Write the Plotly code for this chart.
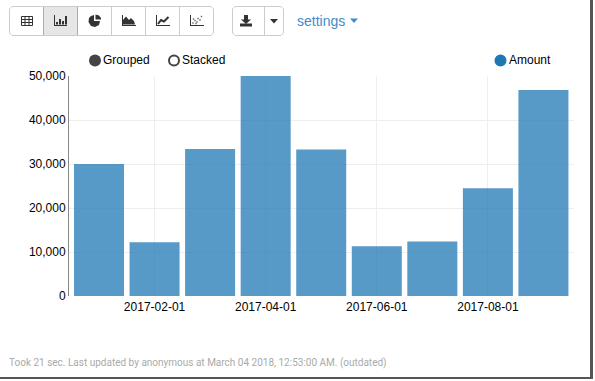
import plotly.graph_objects as go

W, H = 595, 381
L, R, T, B = 69, 574, 76, 296

months = ["2017-01-01", "2017-02-01", "2017-03-01", "2017-04-01", "2017-05-01",
          "2017-06-01", "2017-07-01", "2017-08-01", "2017-09-01"]
amounts = [30000, 12200, 33400, 50000, 33300, 11300, 12400, 24500, 46800]
tick_labels = ["2017-02-01", "2017-04-01", "2017-06-01", "2017-08-01"]
y_ticks = [0, 10000, 20000, 30000, 40000, 50000]

def px(x):
    return (x - L) / (R - L)

def py(y):
    return (B - y) / (B - T)

shapes, annos = [], []

def rect(x0, y0, x1, y1, fill="rgba(0,0,0,0)", line="rgba(0,0,0,0)", lw=1):
    shapes.append(dict(type="rect", xref="paper", yref="paper", x0=px(x0), x1=px(x1),
                       y0=py(y0), y1=py(y1), fillcolor=fill,
                       line=dict(color=line, width=lw), layer="above"))

def seg(x0, y0, x1, y1, color="#333333", lw=1):
    shapes.append(dict(type="line", xref="paper", yref="paper", x0=px(x0), x1=px(x1),
                       y0=py(y0), y1=py(y1), line=dict(color=color, width=lw), layer="above"))

def poly(points, fill="#333333", line=None, lw=1):
    d = "M" + " L".join(f"{px(a):.5f},{py(b):.5f}" for a, b in points)
    closed = fill is not None
    if closed:
        d += " Z"
    shapes.append(dict(type="path", xref="paper", yref="paper", path=d,
                       fillcolor=fill if fill else "rgba(0,0,0,0)",
                       line=dict(color=line if line else "rgba(0,0,0,0)", width=lw), layer="above"))

def circ(cx, cy, r, fill, line=None, lw=1):
    shapes.append(dict(type="circle", xref="paper", yref="paper", x0=px(cx - r), x1=px(cx + r),
                       y0=py(cy - r), y1=py(cy + r), fillcolor=fill,
                       line=dict(color=line if line else "rgba(0,0,0,0)", width=lw), layer="above"))

def text(x, y, s, size=12, color="#000000", anchor="left", family="Liberation Sans"):
    annos.append(dict(xref="paper", yref="paper", x=px(x), y=py(y), text=s, showarrow=False,
                      xanchor=anchor, yanchor="middle", borderpad=0,
                      font=dict(size=size, color=color, family=family)))

# screenshot shadow
rect(590, 0, 593, 379, fill="#555555")
rect(0, 377, 593, 379, fill="#555555")

# toolbar buttons
BORDER = "#cccccc"
rect(43.5, 6.5, 77.5, 35.5, fill="#e6e6e6", line="#adadad")

def rounded(x0, x1):
    y0, y1, c = 6.5, 35.5, 2.5
    pts = [(x0 + c, y0), (x1 - c, y0), (x1, y0 + c), (x1, y1 - c), (x1 - c, y1), (x0 + c, y1), (x0, y1 - c), (x0, y0 + c)]
    poly(pts, fill="rgba(0,0,0,0)", line=BORDER)

rounded(9.5, 213.5)
for x in [111.5, 145.5, 179.5]:
    seg(x, 6.5, x, 35.5, BORDER)
rounded(232.5, 283.5)
seg(264.5, 6.5, 264.5, 35.5, BORDER)

ICON = "#333333"
# table icon
rect(21.5, 16.5, 32.5, 25.5, line=ICON)
for x in [25, 29]:
    seg(x, 16, x, 26, ICON)
for y in [19.5, 22.5]:
    seg(21, y, 33, y, ICON)
# bar icon
seg(54.5, 15, 54.5, 25.5, ICON)
seg(54, 25.5, 67, 25.5, ICON)
for x, top in zip([57, 60, 63, 66], [22, 19, 21, 16]):
    rect(x - 1, top, x + 1, 24.5, fill=ICON)
# pie icon
poly([(94, 15), (94, 21), (100, 21), (99, 25), (95, 27), (91, 26), (88.5, 22), (89, 18), (91, 16)], fill=ICON)
poly([(95.5, 14.5), (99, 15.5), (101, 18), (101, 19.5), (95.5, 19.5)], fill=ICON)
# area icon
seg(122.5, 15, 122.5, 25.5, ICON)
seg(122, 25.5, 136, 25.5, ICON)
poly([(123, 24.5), (123, 20), (126, 16.5), (129, 20), (131, 18), (134, 21), (135, 24.5)], fill=ICON)
# line icon
seg(156.5, 15, 156.5, 25.5, ICON)
seg(156, 25.5, 170, 25.5, ICON)
poly([(158, 24), (161, 20), (164, 21.5), (168.5, 17)], fill=None, line=ICON, lw=2)
# scatter icon
seg(190.5, 15, 190.5, 25.5, ICON)
seg(190, 25.5, 204, 25.5, ICON)
for cx, cy in [(193, 23), (195, 20.5), (197, 22), (198, 18.5), (200, 20), (201.5, 16.5), (196, 23.5), (193.5, 19)]:
    rect(cx - 0.7, cy - 0.7, cx + 0.7, cy + 0.7, fill="#666666")
# download icon
poly([(244, 15), (248, 15), (248, 19.5), (251, 19.5), (246, 24), (241, 19.5), (244, 19.5)], fill=ICON)
rect(240, 23.5, 252, 26.5, fill=ICON)
# caret
poly([(270, 19), (278, 19), (274, 23.5)], fill=ICON)
# settings
text(295.5, 21.5, "settings", size=14, color="#428bca")
poly([(350, 18.5), (358, 18.5), (354, 23)], fill="#428bca")

# chart legend
circ(95, 60.5, 6, "#444444")
text(102, 60.5, "Grouped")
circ(174, 60.5, 5, "#ffffff", line="#444444", lw=2)
text(181, 60.5, "Stacked")
circ(500.5, 60.5, 6, "#1f77b4")
text(507.5, 60.5, "Amount")

# footer
text(8, 363, "Took 21 sec. Last updated by anonymous at March 04 2018, 12:53:00 AM. (outdated)",
     size=10, color="#aaaaaa", family="Roboto")

fig = go.Figure(go.Bar(x=months, y=amounts, marker=dict(color="#1f77b4", opacity=0.75, line_width=0),
                       width=0.9, name="Amount", showlegend=False))
fig.update_layout(
    width=W, height=H, margin=dict(l=L, r=W - R, t=T, b=H - B),
    paper_bgcolor="#ffffff", plot_bgcolor="#ffffff", showlegend=False, bargap=0.1,
    font=dict(family="Liberation Sans", size=12, color="#000000"),
    shapes=shapes, annotations=annos,
)
fig.update_xaxes(type="category", categoryorder="array", categoryarray=months, range=[-0.54, 8.55],
                 tickmode="array", tickvals=tick_labels, ticktext=tick_labels,
                 showgrid=True, gridcolor="#eeeeee", gridwidth=1, zeroline=False, showline=False,
                 ticks="", ticklabelstandoff=2, tickfont=dict(size=12, color="#000000"), tickangle=0)
fig.update_yaxes(range=[0, 50000], tickvals=y_ticks, tickformat=",d", showgrid=True,
                 gridcolor="#eeeeee", gridwidth=1, zeroline=False, showline=True, linecolor="#888888",
                 linewidth=1, ticks="", ticklen=0, tickfont=dict(size=12, color="#000000"))

fig.write_html("out.html", config={"displayModeBar": False},
               post_script="document.body.style.margin='0';document.body.style.overflow='hidden';")
